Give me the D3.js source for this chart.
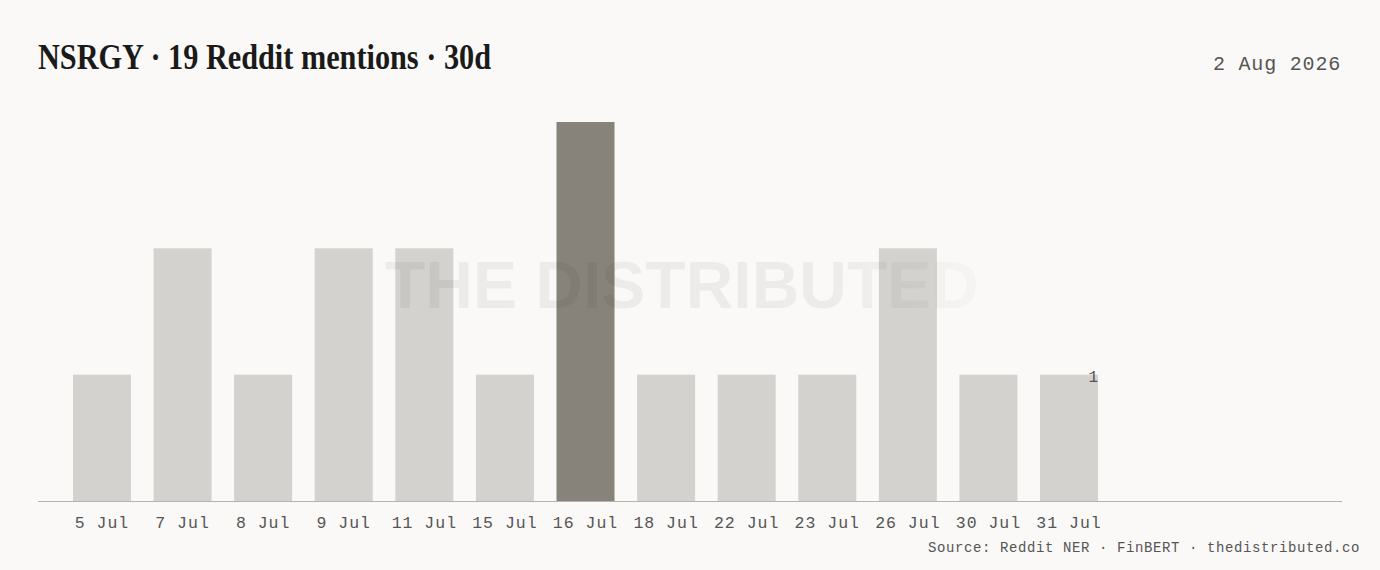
<!DOCTYPE html>
<html><head><meta charset="utf-8">
<script src="https://cdn.jsdelivr.net/npm/d3@7"></script>
<style>
html,body{margin:0;padding:0;background:#faf9f7;}
svg{display:block;}
</style></head>
<body>
<svg id="chart" width="1380" height="570"></svg>
<script>
const categories = ["5 Jul","7 Jul","8 Jul","9 Jul","11 Jul","15 Jul","16 Jul","18 Jul","22 Jul","23 Jul","26 Jul","30 Jul","31 Jul"];
const mentions = [1,2,1,2,2,1,3,1,1,1,2,1,1];
const titleText = "NSRGY · 19 Reddit mentions · 30d";
const dateText = "2 Aug 2026";
const sourceText = "Source: Reddit NER · FinBERT · thedistributed.co";
const watermarkText = "THE DISTRIBUTED";

const W = 1380, H = 570;
const svg = d3.select("#chart");
svg.append("rect").attr("width", W).attr("height", H).attr("fill", "#faf9f7");

const baseY = 501, topY = 122;
const x = d3.scaleBand().domain(categories).range([38, 1133]).paddingInner(0.28).paddingOuter(0.434);
const y = d3.scaleLinear().domain([0, d3.max(mentions)]).range([baseY, topY]);
const maxV = d3.max(mentions);

// title
svg.append("text").attr("x", 38).attr("y", 69)
  .attr("font-family", "'Liberation Serif', 'DejaVu Serif', serif")
  .attr("font-weight", "bold").attr("font-size", 35).attr("fill", "#1a1a1a")
  .attr("textLength", 453).attr("lengthAdjust", "spacingAndGlyphs")
  .text(titleText);

svg.append("text").attr("x", 1341).attr("y", 70).attr("text-anchor", "end")
  .attr("font-family", "'Liberation Mono', 'DejaVu Sans Mono', monospace")
  .attr("font-size", 20).attr("fill", "#555").attr("letter-spacing", 0.8)
  .text(dateText);

// bars
svg.append("g").selectAll("rect").data(categories).join("rect")
  .attr("x", d => x(d)).attr("width", x.bandwidth())
  .attr("y", (d, i) => y(mentions[i]))
  .attr("height", (d, i) => baseY - y(mentions[i]))
  .attr("fill", (d, i) => mentions[i] === maxV ? "#88837a" : "#d3d2ce");

// axis
const axis = d3.axisBottom(x).tickSize(0).tickPadding(15);
const ag = svg.append("g").attr("transform", `translate(0,${baseY})`).call(axis);
ag.select(".domain").remove();
ag.selectAll("text").attr("font-family", "'Liberation Mono', 'DejaVu Sans Mono', monospace")
  .attr("font-size", 16.5).attr("fill", "#555").attr("letter-spacing", 1);
svg.append("line").attr("x1", 38).attr("x2", 1342).attr("y1", baseY + 0.5).attr("y2", baseY + 0.5)
  .attr("stroke", "#b5b3ae").attr("stroke-width", 1);

// last value label
const lastCat = categories[categories.length - 1];
svg.append("text").attr("x", x(lastCat) + x.bandwidth()).attr("y", y(mentions[mentions.length - 1]) + 7)
  .attr("text-anchor", "end")
  .attr("font-family", "'Liberation Mono', 'DejaVu Sans Mono', monospace")
  .attr("font-size", 16).attr("fill", "#555").text(mentions[mentions.length - 1]);

// watermark
const defs = svg.append("defs");
const grad = defs.append("linearGradient").attr("id", "wmfade").attr("x1", "0").attr("x2", "1");
grad.append("stop").attr("offset", "0").attr("stop-color", "#000").attr("stop-opacity", 0.055);
grad.append("stop").attr("offset", "0.75").attr("stop-color", "#000").attr("stop-opacity", 0.055);
grad.append("stop").attr("offset", "1").attr("stop-color", "#000").attr("stop-opacity", 0.02);
svg.append("text").attr("x", 385).attr("y", 308)
  .attr("font-family", "'Liberation Sans', Arial, sans-serif").attr("font-weight", "bold")
  .attr("font-size", 66).attr("fill", "url(#wmfade)").attr("letter-spacing", 0)
  .text(watermarkText);

// source
svg.append("text").attr("x", 1360).attr("y", 552).attr("text-anchor", "end")
  .attr("font-family", "'Liberation Mono', 'DejaVu Sans Mono', monospace")
  .attr("font-size", 14).attr("fill", "#555").attr("letter-spacing", 0.6)
  .text(sourceText);
</script>
</body></html>
